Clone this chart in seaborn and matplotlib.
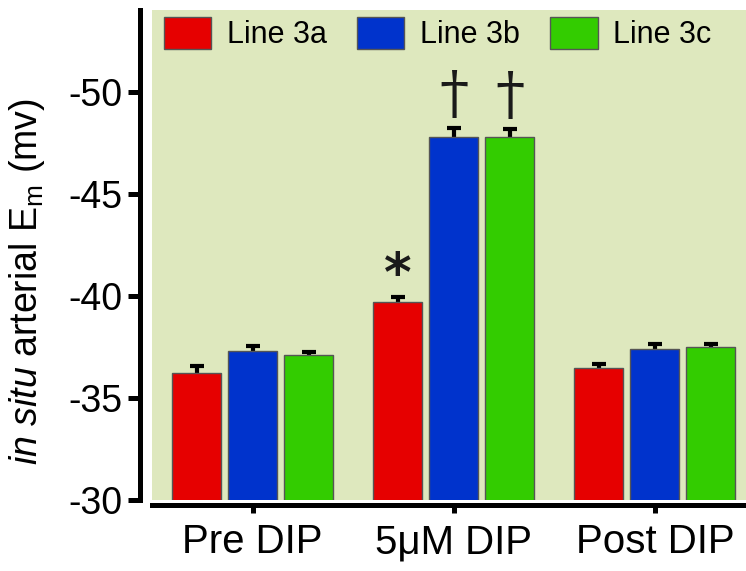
import numpy as np
import pandas as pd
import matplotlib
matplotlib.use("Agg")
import matplotlib.pyplot as plt
import seaborn as sns

# values (mV), SEM drawn as one-sided bars
conditions = ["Pre DIP", "5\u03bcM DIP", "Post DIP"]
lines = ["Line 3a", "Line 3b", "Line 3c"]
em_3a = [-36.2, -39.7, -36.45]
em_3b = [-37.3, -47.8, -37.4]
em_3c = [-37.1, -47.8, -37.5]
sem_3a = [0.35, 0.25, 0.2]
sem_3b = [0.23, 0.4, 0.24]
sem_3c = [0.16, 0.35, 0.15]
marks_3a = ["", "*", ""]
marks_3b = ["", "\u2020", ""]
marks_3c = ["", "\u2020", ""]
yticks = [-50, -45, -40, -35, -30]

colors = ["#e60000", "#0033cc", "#33cc00"]

rows = []
for line, em, sem, mk in zip(lines, [em_3a, em_3b, em_3c], [sem_3a, sem_3b, sem_3c],
                             [marks_3a, marks_3b, marks_3c]):
    for c, v, s, m in zip(conditions, em, sem, mk):
        rows.append({"condition": c, "line": line, "em": v, "sem": s, "mark": m})
df = pd.DataFrame(rows)

sns.set_style("white")
plt.rcParams['font.family'] = ['Liberation Sans', 'DejaVu Sans']
plt.rcParams['mathtext.fontset'] = 'custom'
plt.rcParams['mathtext.rm'] = 'Liberation Sans'
plt.rcParams['mathtext.it'] = 'Liberation Sans:italic'
plt.rcParams['axes.unicode_minus'] = False
plt.rcParams['text.color'] = 'black'
plt.rcParams['axes.labelcolor'] = 'black'
plt.rcParams['xtick.color'] = 'black'
plt.rcParams['ytick.color'] = 'black'

fig = plt.figure(figsize=(7.46, 5.71), dpi=100)
ax = fig.add_axes([0.2038, 0.1243, 0.7962, 0.8582])
ax.set_facecolor("#dee8be")

sns.barplot(data=df, x="condition", y="em", hue="line", palette=colors,
            saturation=1, errorbar=None, width=0.836, gap=0.125,
            edgecolor="#555555", linewidth=1, ax=ax)

for cont, line in zip(ax.containers, lines):
    sub = df[df["line"] == line]
    xs = [b.get_x() + b.get_width() / 2 for b in cont]
    ax.errorbar(xs, sub["em"], yerr=sub["sem"], fmt="none", ecolor="black",
                elinewidth=3, capsize=4.7, capthick=3, zorder=0.5)
    for x, v, s, m in zip(xs, sub["em"], sub["sem"], sub["mark"]):
        if not m:
            continue
        if m == "*":
            ax.annotate(m, xy=(x, v - s), xytext=(0, -4), textcoords="offset points",
                        ha="center", va="bottom", fontsize=38, fontweight="bold",
                        family="DejaVu Sans", color="#1a1a1a")
        else:
            ax.annotate(m, xy=(x, v - s), xytext=(0, 3), textcoords="offset points",
                        ha="center", va="bottom", fontsize=42, family="DejaVu Serif",
                        color="#1a1a1a")

ax.set_ylim(-30, -54)
ax.set_xlim(-0.5, 2.453)
ax.set_yticks(yticks)
ax.set_yticklabels([str(t) for t in yticks])
ax.set_xlabel("")
ax.set_ylabel(r"$\mathit{in\ situ}$ arterial E$_\mathrm{m}$ (mv)", fontsize=27)
ax.yaxis.set_label_coords(-0.177, 0.445)

sns.despine(ax=ax, top=True, right=True)
ax.spines["left"].set_position(("outward", 8.6))
ax.spines["bottom"].set_position(("outward", 3.6))
for s in ["left", "bottom"]:
    ax.spines[s].set_linewidth(3.6)
    ax.spines[s].set_color("black")
ax.tick_params(axis="y", direction="out", length=8.6, width=3.6, pad=4, labelsize=27, left=True)
ax.tick_params(axis="x", direction="out", length=6, width=3.6, pad=7, labelsize=29, bottom=True)

handles, labels = ax.get_legend_handles_labels()
ax.legend(handles, labels, ncol=3, loc="upper left", bbox_to_anchor=(0.02, 0.985),
          frameon=False, fontsize=22, handlelength=1.55, handleheight=1.2,
          handletextpad=0.5, columnspacing=1.0, borderaxespad=0, borderpad=0)

fig.savefig("out.png", dpi=100)
